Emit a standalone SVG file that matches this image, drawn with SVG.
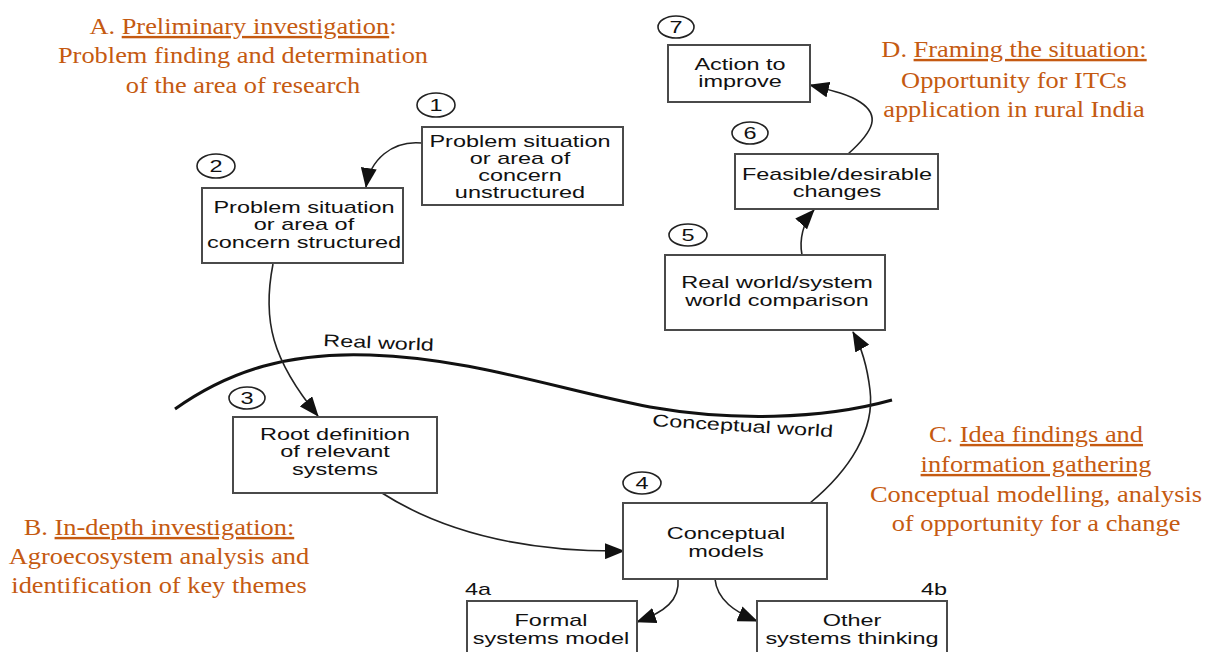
<svg xmlns="http://www.w3.org/2000/svg" width="1213" height="652" viewBox="0 0 1213 652">
  <style>
    .box { fill: #ffffff; stroke: #4a4a4a; stroke-width: 2; }
    .num { fill: none; stroke: #222; stroke-width: 1.6; }
    .lbl { font-family: "Liberation Sans", Arial, sans-serif; font-size: 17px; fill: #111; text-anchor: middle; }
    .tag { font-family: "Liberation Sans", Arial, sans-serif; font-size: 17px; fill: #111; }
    .edge { fill: none; stroke: #222; stroke-width: 1.6; }
    .world { fill: none; stroke: #111; stroke-width: 3; }
    .note { font-family: "Liberation Serif", "Times New Roman", serif; font-size: 24px; fill: #C55A11; text-anchor: middle; }
    .u { text-decoration: underline; }
  </style>
  <defs>
    <marker id="arrow" markerUnits="userSpaceOnUse" viewBox="0 0 20 16" markerWidth="20" markerHeight="16" refX="19" refY="8" orient="auto">
      <path d="M0,0 L20,8 L0,16 z" fill="#111"/>
    </marker>
  </defs>

  <rect width="1213" height="652" fill="#ffffff"/>

  <!-- boundary between the real world and the conceptual world -->
  <g id="boundary">
    <path class="world" d="M175,409 C230,370 290,352 370,355 C470,358 560,390 650,407 C730,421 820,420 892,400"/>
    <g transform="translate(323,346) rotate(2.5) scale(1.38,1)">
      <text class="tag" x="0" y="0">Real world</text>
    </g>
    <g transform="translate(652,426) rotate(3.5) scale(1.38,1)">
      <text class="tag" x="0" y="0">Conceptual world</text>
    </g>
  </g>

  <!-- connectors -->
  <g id="connectors">
    <path class="edge" marker-end="url(#arrow)" d="M422,143 C392,140 370,160 366,187"/>
    <path class="edge" marker-end="url(#arrow)" d="M273,264 C262,320 272,360 318,416"/>
    <path class="edge" marker-end="url(#arrow)" d="M382,493 C440,530 520,552 624,551"/>
    <path class="edge" marker-end="url(#arrow)" d="M810,503 C850,470 875,430 870,390 C867,365 862,348 853,332"/>
    <path class="edge" marker-end="url(#arrow)" d="M802,255 C799,240 803,222 814,210"/>
    <path class="edge" marker-end="url(#arrow)" d="M848,154 C875,130 880,115 860,102 C848,94 830,90 810,85"/>
    <path class="edge" marker-end="url(#arrow)" d="M678,579 C680,600 665,612 637,622"/>
    <path class="edge" marker-end="url(#arrow)" d="M715,579 C717,600 735,612 757,621"/>
  </g>

  <!-- stage 1 -->
  <g id="node1">
    <ellipse class="num" cx="436" cy="105" rx="19" ry="12"/>
    <g transform="translate(436,0) scale(1.38,1)"><text class="lbl" x="0" y="111">1</text></g>
    <rect class="box" x="422" y="127" width="201" height="78"/>
    <g transform="translate(520,0) scale(1.38,1)">
      <text class="lbl" x="0" y="147">Problem situation</text>
      <text class="lbl" x="0" y="164">or area of</text>
      <text class="lbl" x="0" y="181">concern</text>
      <text class="lbl" x="0" y="198">unstructured</text>
    </g>
  </g>

  <!-- stage 2 -->
  <g id="node2">
    <ellipse class="num" cx="216" cy="166" rx="19" ry="12"/>
    <g transform="translate(216,0) scale(1.38,1)"><text class="lbl" x="0" y="172">2</text></g>
    <rect class="box" x="202" y="188" width="201" height="75"/>
    <g transform="translate(304,0) scale(1.38,1)">
      <text class="lbl" x="0" y="213">Problem situation</text>
      <text class="lbl" x="0" y="230">or area of</text>
      <text class="lbl" x="0" y="248">concern structured</text>
    </g>
  </g>

  <!-- stage 3 -->
  <g id="node3">
    <ellipse class="num" cx="247" cy="398" rx="18" ry="11"/>
    <g transform="translate(247,0) scale(1.38,1)"><text class="lbl" x="0" y="404">3</text></g>
    <rect class="box" x="233" y="417" width="204" height="76"/>
    <g transform="translate(335,0) scale(1.38,1)">
      <text class="lbl" x="0" y="440">Root definition</text>
      <text class="lbl" x="0" y="457">of relevant</text>
      <text class="lbl" x="0" y="475">systems</text>
    </g>
  </g>

  <!-- stage 4 -->
  <g id="node4">
    <ellipse class="num" cx="642" cy="483" rx="19" ry="11"/>
    <g transform="translate(642,0) scale(1.38,1)"><text class="lbl" x="0" y="489">4</text></g>
    <rect class="box" x="623" y="503" width="204" height="76"/>
    <g transform="translate(726,0) scale(1.38,1)">
      <text class="lbl" x="0" y="539">Conceptual</text>
      <text class="lbl" x="0" y="557">models</text>
    </g>
  </g>

  <!-- stage 4a -->
  <g id="node4a">
    <g transform="translate(465,0) scale(1.38,1)"><text class="tag" x="0" y="595">4a</text></g>
    <rect class="box" x="467" y="601" width="170" height="70"/>
    <g transform="translate(551,0) scale(1.38,1)">
      <text class="lbl" x="0" y="626">Formal</text>
      <text class="lbl" x="0" y="644">systems model</text>
    </g>
  </g>

  <!-- stage 4b -->
  <g id="node4b">
    <g transform="translate(947,0) scale(1.38,1)"><text class="tag" x="0" y="595" text-anchor="end">4b</text></g>
    <rect class="box" x="757" y="601" width="190" height="70"/>
    <g transform="translate(852,0) scale(1.38,1)">
      <text class="lbl" x="0" y="626">Other</text>
      <text class="lbl" x="0" y="644">systems thinking</text>
    </g>
  </g>

  <!-- stage 5 -->
  <g id="node5">
    <ellipse class="num" cx="688" cy="235" rx="19" ry="11"/>
    <g transform="translate(688,0) scale(1.38,1)"><text class="lbl" x="0" y="241">5</text></g>
    <rect class="box" x="665" y="255" width="220" height="75"/>
    <g transform="translate(777,0) scale(1.38,1)">
      <text class="lbl" x="0" y="288">Real world/system</text>
      <text class="lbl" x="0" y="306">world comparison</text>
    </g>
  </g>

  <!-- stage 6 -->
  <g id="node6">
    <ellipse class="num" cx="750" cy="133" rx="18" ry="11"/>
    <g transform="translate(750,0) scale(1.38,1)"><text class="lbl" x="0" y="139">6</text></g>
    <rect class="box" x="735" y="154" width="203" height="55"/>
    <g transform="translate(837,0) scale(1.38,1)">
      <text class="lbl" x="0" y="180">Feasible/desirable</text>
      <text class="lbl" x="0" y="197">changes</text>
    </g>
  </g>

  <!-- stage 7 -->
  <g id="node7">
    <ellipse class="num" cx="676" cy="27" rx="18" ry="11"/>
    <g transform="translate(676,0) scale(1.38,1)"><text class="lbl" x="0" y="33">7</text></g>
    <rect class="box" x="668" y="45" width="142" height="57"/>
    <g transform="translate(740,0) scale(1.38,1)">
      <text class="lbl" x="0" y="70">Action to</text>
      <text class="lbl" x="0" y="87">improve</text>
    </g>
  </g>

  <!-- research phase annotations -->
  <g id="noteA" transform="translate(243,0) scale(1.1,1)">
    <text class="note" x="0" y="34">A. <tspan class="u">Preliminary investigation</tspan>:</text>
    <text class="note" x="0" y="63">Problem finding and determination</text>
    <text class="note" x="0" y="93">of the area of research</text>
  </g>
  <g id="noteB" transform="translate(159,0) scale(1.1,1)">
    <text class="note" x="0" y="535">B. <tspan class="u">In-depth investigation:</tspan></text>
    <text class="note" x="0" y="564">Agroecosystem analysis and</text>
    <text class="note" x="0" y="593">identification of key themes</text>
  </g>
  <g id="noteC" transform="translate(1036,0) scale(1.1,1)">
    <text class="note" x="0" y="442">C. <tspan class="u">Idea findings and</tspan></text>
    <text class="note" x="0" y="472"><tspan class="u">information gathering</tspan></text>
    <text class="note" x="0" y="502">Conceptual modelling, analysis</text>
    <text class="note" x="0" y="531">of opportunity for a change</text>
  </g>
  <g id="noteD" transform="translate(1014,0) scale(1.1,1)">
    <text class="note" x="0" y="57">D. <tspan class="u">Framing the situation:</tspan></text>
    <text class="note" x="0" y="88">Opportunity for ITCs</text>
    <text class="note" x="0" y="117">application in rural India</text>
  </g>
</svg>
